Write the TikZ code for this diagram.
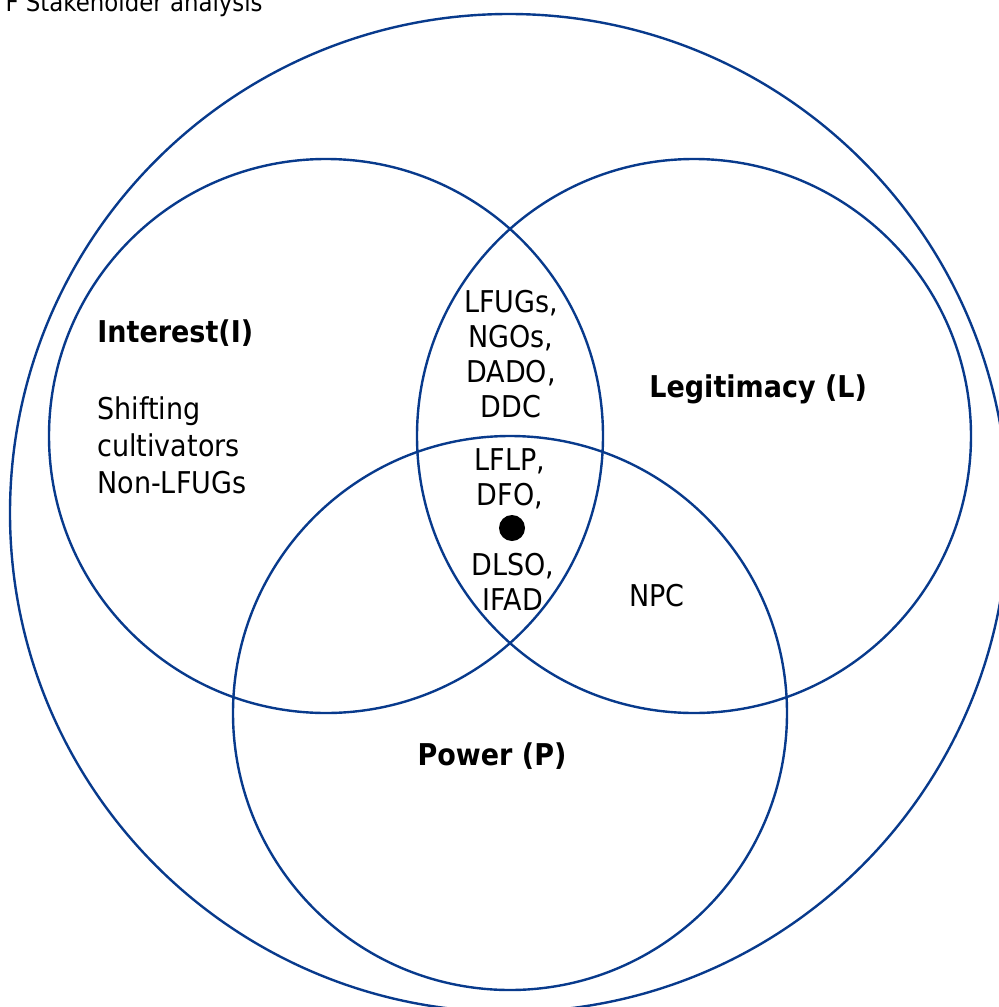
\documentclass[tikz,border=0pt]{standalone}
\usepackage{fontspec}
\setmainfont{DejaVu Sans}[FakeStretch=0.9]
\usepackage{tikz}
\usetikzlibrary{positioning}
\definecolor{vennblue}{RGB}{8,58,140}
\begin{document}
\begin{tikzpicture}[
        x=0.5pt, y=-0.5pt,
        ring/.style={draw=vennblue, line width=1.2pt},
        label/.style={font=\fontsize{15pt}{18pt}\selectfont, inner sep=0pt},
        blabel/.style={label, font=\fontsize{15pt}{18pt}\selectfont\bfseries},
        inner/.style={label, align=center, font=\fontsize{15pt}{17.5pt}\selectfont},
        dot/.style={circle, fill=black, minimum size=13pt, inner sep=0pt}
    ]
        \useasboundingbox (0,0) rectangle (998,1007);

        % Kreise
        \coordinate (cO) at (509,513);
        \coordinate (cI) at (326,436);
        \coordinate (cL) at (694,436);
        \coordinate (cP) at (510,713);
        \draw[ring] (cO) circle (249.5pt);
        \draw[ring] (cI) circle (138.5pt);
        \draw[ring] (cL) circle (138.5pt);
        \draw[ring] (cP) circle (138.5pt);

        % Titel (abgeschnitten)
        \node[label, font=\fontsize{12.7pt}{15pt}\selectfont, anchor=base east] (title) at (263,11) {F Stakeholder analysis};

        % Bereiche
        \node[blabel, anchor=base west] (interest) at (97,342) {Interest(I)};
        \node[label, align=left, anchor=base west, font=\fontsize{15pt}{18.5pt}\selectfont] (shift) at (97,493) {Shifting\\cultivators\\Non-LFUGs};
        \node[blabel, anchor=base west] (legit) at (649,397) {Legitimacy (L)};
        \node[blabel, anchor=base] (power) at (492,765) {Power (P)};
        \node[label, anchor=base] (npc) at (657,606) {NPC};

        % Schnittmengen
        \node[inner, anchor=base] (il) at (511,417) {LFUGs,\\NGOs,\\DADO,\\DDC};
        \node[inner, anchor=base] (ilp) at (510,505) {LFLP,\\DFO,};
        \node[dot] (core) at (512,528) {};
        \node[inner, anchor=base] (ilp2) at (513,610) {DLSO,\\IFAD};
    \end{tikzpicture}
\end{document}
